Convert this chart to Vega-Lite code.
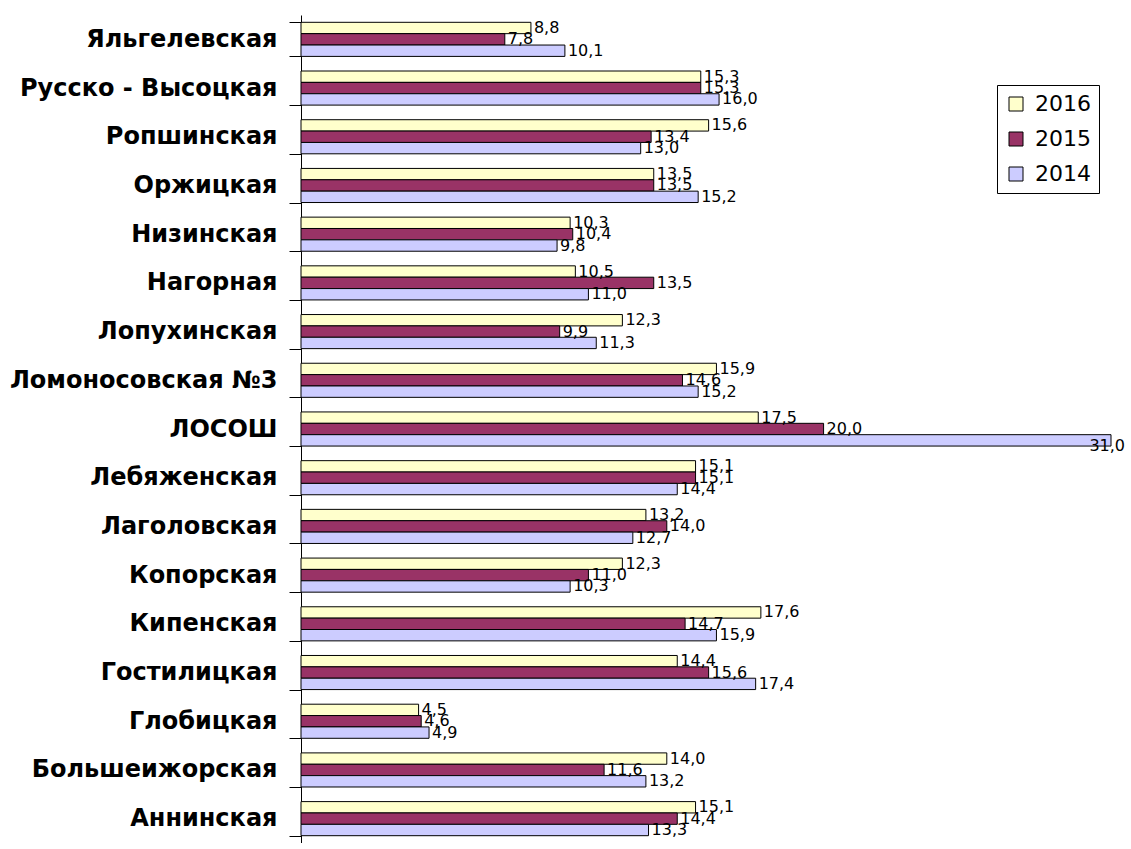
{
  "$schema": "https://vega.github.io/schema/vega-lite/v6.json",
  "width": 810,
  "height": 828,
  "padding": {"left": 9, "top": 3, "right": 0, "bottom": 0},
  "background": "white",
  "config": {
    "view": {"stroke": null},
    "locale": {"number": {"decimal": ",", "thousands": " ", "grouping": [3], "currency": ["", ""]}}
  },
  "data": {
    "values": [
      {"school": "Яльгелевская", "year": "2016", "value": 8.8},
      {"school": "Яльгелевская", "year": "2015", "value": 7.8},
      {"school": "Яльгелевская", "year": "2014", "value": 10.1},
      {"school": "Русско - Высоцкая", "year": "2016", "value": 15.3},
      {"school": "Русско - Высоцкая", "year": "2015", "value": 15.3},
      {"school": "Русско - Высоцкая", "year": "2014", "value": 16.0},
      {"school": "Ропшинская", "year": "2016", "value": 15.6},
      {"school": "Ропшинская", "year": "2015", "value": 13.4},
      {"school": "Ропшинская", "year": "2014", "value": 13.0},
      {"school": "Оржицкая", "year": "2016", "value": 13.5},
      {"school": "Оржицкая", "year": "2015", "value": 13.5},
      {"school": "Оржицкая", "year": "2014", "value": 15.2},
      {"school": "Низинская", "year": "2016", "value": 10.3},
      {"school": "Низинская", "year": "2015", "value": 10.4},
      {"school": "Низинская", "year": "2014", "value": 9.8},
      {"school": "Нагорная", "year": "2016", "value": 10.5},
      {"school": "Нагорная", "year": "2015", "value": 13.5},
      {"school": "Нагорная", "year": "2014", "value": 11.0},
      {"school": "Лопухинская", "year": "2016", "value": 12.3},
      {"school": "Лопухинская", "year": "2015", "value": 9.9},
      {"school": "Лопухинская", "year": "2014", "value": 11.3},
      {"school": "Ломоносовская №3", "year": "2016", "value": 15.9},
      {"school": "Ломоносовская №3", "year": "2015", "value": 14.6},
      {"school": "Ломоносовская №3", "year": "2014", "value": 15.2},
      {"school": "ЛОСОШ", "year": "2016", "value": 17.5},
      {"school": "ЛОСОШ", "year": "2015", "value": 20.0},
      {"school": "ЛОСОШ", "year": "2014", "value": 31.0},
      {"school": "Лебяженская", "year": "2016", "value": 15.1},
      {"school": "Лебяженская", "year": "2015", "value": 15.1},
      {"school": "Лебяженская", "year": "2014", "value": 14.4},
      {"school": "Лаголовская", "year": "2016", "value": 13.2},
      {"school": "Лаголовская", "year": "2015", "value": 14.0},
      {"school": "Лаголовская", "year": "2014", "value": 12.7},
      {"school": "Копорская", "year": "2016", "value": 12.3},
      {"school": "Копорская", "year": "2015", "value": 11.0},
      {"school": "Копорская", "year": "2014", "value": 10.3},
      {"school": "Кипенская", "year": "2016", "value": 17.6},
      {"school": "Кипенская", "year": "2015", "value": 14.7},
      {"school": "Кипенская", "year": "2014", "value": 15.9},
      {"school": "Гостилицкая", "year": "2016", "value": 14.4},
      {"school": "Гостилицкая", "year": "2015", "value": 15.6},
      {"school": "Гостилицкая", "year": "2014", "value": 17.4},
      {"school": "Глобицкая", "year": "2016", "value": 4.5},
      {"school": "Глобицкая", "year": "2015", "value": 4.6},
      {"school": "Глобицкая", "year": "2014", "value": 4.9},
      {"school": "Большеижорская", "year": "2016", "value": 14.0},
      {"school": "Большеижорская", "year": "2015", "value": 11.6},
      {"school": "Большеижорская", "year": "2014", "value": 13.2},
      {"school": "Аннинская", "year": "2016", "value": 15.1},
      {"school": "Аннинская", "year": "2015", "value": 14.4},
      {"school": "Аннинская", "year": "2014", "value": 13.3}
    ]
  },
  "encoding": {
    "y": {
      "field": "school",
      "type": "nominal",
      "sort": null,
      "scale": {"paddingInner": 0.3, "paddingOuter": 0.15},
      "axis": {
        "title": null,
        "labelFont": "DejaVu Sans",
        "labelFontWeight": "bold",
        "labelFontSize": 24,
        "labelColor": "black",
        "labelLimit": 400,
        "labelPadding": 12,
        "tickSize": 12,
        "tickColor": "black",
        "domainColor": "black",
        "tickBand": "extent"
      }
    },
    "yOffset": {
      "field": "year",
      "type": "nominal",
      "sort": ["2016", "2015", "2014"],
      "scale": {"paddingInner": 0, "paddingOuter": 0}
    },
    "x": {
      "field": "value",
      "type": "quantitative",
      "scale": {"domain": [0, 31], "nice": false},
      "axis": null
    }
  },
  "layer": [
    {
      "mark": {"type": "bar", "stroke": "black", "strokeWidth": 1},
      "encoding": {
        "color": {
          "field": "year",
          "type": "nominal",
          "scale": {"domain": ["2016", "2015", "2014"], "range": ["#FFFFCC", "#993366", "#CCCCFF"]},
          "legend": {
            "title": null,
            "orient": "none",
            "legendX": 696,
            "legendY": 70,
            "direction": "vertical",
            "strokeColor": "black",
            "padding": 8,
            "symbolType": "square",
            "symbolSize": 196,
            "symbolStrokeColor": "black",
            "symbolStrokeWidth": 1,
            "labelFont": "DejaVu Sans",
            "labelFontSize": 22,
            "labelColor": "black",
            "labelOffset": 8,
            "rowPadding": 13
          }
        }
      }
    },
    {
      "transform": [{"filter": "datum.value < 30"}],
      "mark": {"type": "text", "align": "left", "baseline": "middle", "dx": 3, "font": "DejaVu Sans", "fontSize": 16, "color": "black"},
      "encoding": {
        "text": {"field": "value", "type": "quantitative", "format": ".1f"}
      }
    },
    {
      "transform": [{"filter": "datum.value >= 30"}],
      "mark": {"type": "text", "align": "right", "baseline": "middle", "dx": 14, "dy": 6, "font": "DejaVu Sans", "fontSize": 16, "color": "black"},
      "encoding": {
        "text": {"field": "value", "type": "quantitative", "format": ".1f"}
      }
    }
  ]
}
